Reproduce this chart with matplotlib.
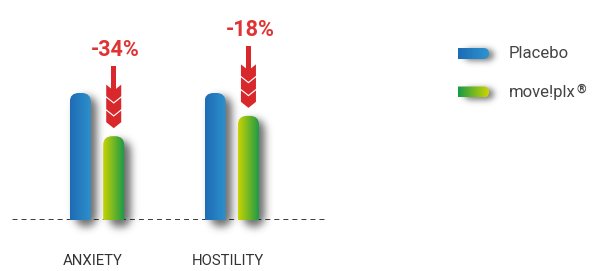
import numpy as np
import matplotlib
matplotlib.use("Agg")
import matplotlib.pyplot as plt
import matplotlib.transforms as mtransforms
from matplotlib.colors import to_rgb
from matplotlib.patches import FancyBboxPatch, Polygon, Rectangle

# data
categories = ["ANXIETY", "HOSTILITY"]
placebo = [100, 100]
moveplx = [66, 82]
changes = ["-34%", "-18%"]
series_names = ["Placebo", "move!plx"]

plt.rcParams['font.family'] = ['Roboto', 'DejaVu Sans']
plt.rcParams['lines.scale_dashes'] = False

W, H = 594, 271
fig = plt.figure(figsize=(W / 100, H / 100), dpi=100)

# background axes in pixel units (shadows, legend)
bg = fig.add_axes([0, 0, 1, 1], zorder=0)
bg.axis('off')

ax = fig.add_axes([12 / W, 51 / H, 315 / W, 190.5 / H], zorder=1)
ax.patch.set_alpha(0)
ax.axis('off')
XLIM = (-0.631, 1.707)
YLIM = (0, 150)
ax.set_xlim(*XLIM)
ax.set_ylim(*YLIM)

sx = ax.transData.transform((1, 0))[0] - ax.transData.transform((0, 0))[0]
sy = ax.transData.transform((0, 1))[1] - ax.transData.transform((0, 0))[1]


def gradient(c0, c1, n=64):
    c0, c1 = np.array(to_rgb(c0)), np.array(to_rgb(c1))
    t = np.linspace(0, 1, n)[None, :, None]
    return np.repeat(c0 + (c1 - c0) * t, 2, axis=0)


def blur(a, sigma):
    r = int(3 * sigma)
    k = np.exp(-0.5 * (np.arange(-r, r + 1) / sigma) ** 2)
    k /= k.sum()
    a = np.apply_along_axis(lambda m: np.convolve(m, k, mode='same'), 0, a)
    return np.apply_along_axis(lambda m: np.convolve(m, k, mode='same'), 1, a)


def shadow(x0, x1, top, bot, rad, dx=6, dy=4, sigma=4.0, alpha=0.8):
    # soft drop shadow, pixel coords (y down)
    m = 20
    xs = np.arange(x0 - m, x1 + m + 1)
    ys = np.arange(top - m, bot + m + 1)
    X, Y = np.meshgrid(xs, ys)
    a0, a1, t, b = x0 + dx, x1 + dx, top + dy, bot + dy
    cx = np.clip(X, a0 + rad, a1 - rad)
    cy = np.clip(Y, t + rad, b - rad)
    mask = ((X - cx) ** 2 + (Y - cy) ** 2 <= rad ** 2).astype(float)
    a = blur(mask, sigma) * alpha
    img = np.zeros(a.shape + (4,))
    img[..., :3] = 0.3
    img[..., 3] = a
    bg.imshow(img, extent=[xs[0] - .5, xs[-1] + .5, ys[-1] + .5, ys[0] - .5],
              interpolation='bilinear', aspect='auto')


def to_px(x, y):
    dx, dy = ax.transData.transform((x, y))
    return dx, H - dy


bar_w = 0.156
off = 0.124
rad = 9
x = np.arange(len(categories))

colors_bar = [("#1e6cb5", "#2d92cc"), ("#c9d300", "#16984b")]


def rounded_bar(xc, h, c0, c1):
    x0 = xc - bar_w / 2
    px0, ptop = to_px(x0, h)
    px1, pbot = to_px(x0 + bar_w, 0)
    shadow(px0, px1, ptop, pbot + 3, rad)
    clip = FancyBboxPatch((x0, -50), bar_w, h + 50,
                          boxstyle=f"round,pad=0,rounding_size={rad / sx}",
                          mutation_aspect=sx / sy, transform=ax.transData,
                          facecolor='none', edgecolor='none')
    ax.add_patch(clip)
    im = ax.imshow(gradient(c0, c1), extent=[x0, x0 + bar_w, 0, h],
                   aspect='auto', interpolation='bilinear', zorder=3)
    im.set_clip_path(clip)


for i in range(len(categories)):
    rounded_bar(x[i] - off, placebo[i], *colors_bar[0])
    rounded_bar(x[i] + off, moveplx[i], *colors_bar[1])

# dashed baseline
ax.axhline(0, color='#000000', lw=1.8, dashes=(3.6, 2.9), zorder=2)

# arrows + percentage labels
red = '#d8282c'
w, d, t, gap = 7.5, 6, 11.5, 1.5


def chevron(yt):
    return [(-w, yt), (0, yt - d), (w, yt), (w, yt - t), (0, yt - t - d), (-w, yt - t)]


for i in range(len(categories)):
    xc, top = x[i] + off, moveplx[i]
    trans = mtransforms.Affine2D() + mtransforms.ScaledTranslation(xc, top, ax.transData)
    tip = 8
    yts = [tip + t + d + k * (t + gap) for k in range(3)]
    ax.add_patch(Polygon(chevron(yts[2]), closed=True, fc=red, ec='none',
                         transform=trans, clip_on=False, zorder=4))
    ax.add_patch(Rectangle((-2.5, yts[2] - d - 1), 5, 70 - (yts[2] - d - 1), fc=red,
                           ec='none', transform=trans, clip_on=False, zorder=4))
    for yt in yts[:2]:
        ax.add_patch(Polygon(chevron(yt), closed=True, fc=red, ec='none',
                             transform=trans, clip_on=False, zorder=4))
    ax.text(xc, top, changes[i], fontsize=15.5, fontweight='bold', color='#e03434',
            ha='center', va='center', zorder=5,
            transform=mtransforms.offset_copy(ax.transData, fig, x=2, y=86, units='dots'))

# category labels
for i, cat in enumerate(categories):
    ax.text(x[i], 0, cat, fontsize=10.7, color='#333333', ha='center', va='center',
            transform=mtransforms.offset_copy(ax.transData, fig, x=-4, y=-41, units='dots'))

# legend
leg_colors = [("#1d6cb6", "#2e93cd"), ("#179a48", "#cdd500")]
leg_y = [53.5, 92]
for name, (c0, c1), yc in zip(series_names, leg_colors, leg_y):
    x0, x1, hh = 458, 489, 11
    shadow(x0, x1, yc - hh / 2, yc + hh / 2, hh / 2, dx=5, dy=2, sigma=3, alpha=0.7)
    clip = FancyBboxPatch((x0 - 12, yc - hh / 2), x1 - x0 + 12, hh,
                          boxstyle=f"round,pad=0,rounding_size={hh / 2}",
                          transform=bg.transData, facecolor='none', edgecolor='none')
    bg.add_patch(clip)
    im = bg.imshow(gradient(c0, c1), extent=[x0, x1, yc + hh / 2, yc - hh / 2],
                   aspect='auto', interpolation='bilinear', zorder=3)
    im.set_clip_path(clip)
    bg.text(509, yc, name, fontsize=12, color='#444444', ha='left', va='center', zorder=4)

bg.set_xlim(0, W)
bg.set_ylim(H, 0)

# registered mark after move!plx
fig.canvas.draw()
r = fig.canvas.get_renderer()
txt = bg.texts[-1]
bb = txt.get_window_extent(r)
fig.text(bb.x1 + 0.5, bb.y1 + 1.5, "®", fontsize=9, fontweight='bold', color='#444444',
         ha='left', va='top', transform=None)

ax.set_xlim(*XLIM)
ax.set_ylim(*YLIM)
fig.savefig("out.png", dpi=100)
